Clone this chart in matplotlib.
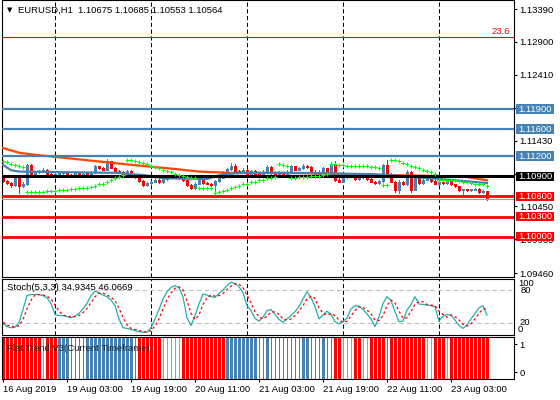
import numpy as np
import matplotlib
matplotlib.use("Agg")
import matplotlib.pyplot as plt
from matplotlib.patches import Rectangle
from matplotlib.transforms import blended_transform_factory

plt.rcParams['font.family'] = ['Liberation Sans', 'DejaVu Sans']
plt.rcParams['font.size'] = 6.8

# EURUSD H1 bars, 16 Aug 2019 11:00 -> 23 Aug 2019 12:00
opens = [1.1087, 1.1083, 1.1080, 1.1077, 1.1088, 1.1075, 1.1079, 1.1107, 1.1090, 1.1096,
         1.1098, 1.1100, 1.1093, 1.1092, 1.1093, 1.1095, 1.1096, 1.1092, 1.1091, 1.1096,
         1.1092, 1.1094, 1.1093, 1.1096, 1.1105, 1.1102, 1.1100, 1.1112, 1.1103, 1.1098,
         1.1097, 1.1094, 1.1098, 1.1093, 1.1089, 1.1083, 1.1077, 1.1080, 1.1082, 1.1085,
         1.1081, 1.1086, 1.1088, 1.1089, 1.1090, 1.1087, 1.1084, 1.1077, 1.1072, 1.1079,
         1.1084, 1.1080, 1.1079, 1.1077, 1.1083, 1.1088, 1.1096, 1.1101, 1.1106, 1.1097,
         1.1096, 1.1100, 1.1094, 1.1098, 1.1094, 1.1092, 1.1097, 1.1104, 1.1095, 1.1094,
         1.1096, 1.1091, 1.1097, 1.1105, 1.1100, 1.1102, 1.1105, 1.1104, 1.1097, 1.1092,
         1.1097, 1.1102, 1.1094, 1.1109, 1.1085, 1.1082, 1.1089, 1.1093, 1.1091, 1.1086,
         1.1090, 1.1089, 1.1086, 1.1082, 1.1080, 1.1083, 1.1107, 1.1094, 1.1082, 1.1069,
         1.1082, 1.1078, 1.1097, 1.1070, 1.1090, 1.1080, 1.1085, 1.1088, 1.1083, 1.1079,
         1.1082, 1.1080, 1.1084, 1.1078, 1.1075, 1.1069, 1.1070, 1.1069, 1.1070, 1.1071,
         1.1066, 1.10675]
highs = [1.1089, 1.1085, 1.1082, 1.1089, 1.1089, 1.1081, 1.1109, 1.1108, 1.1098, 1.1100,
         1.1102, 1.1101, 1.1095, 1.1095, 1.1097, 1.1098, 1.1097, 1.1094, 1.1098, 1.1097,
         1.1096, 1.1096, 1.1098, 1.1107, 1.1106, 1.1104, 1.1115, 1.1113, 1.1104, 1.1100,
         1.1098, 1.1100, 1.1099, 1.1094, 1.1090, 1.1084, 1.1082, 1.1083, 1.1087, 1.1086,
         1.1088, 1.1090, 1.1090, 1.1092, 1.1091, 1.1088, 1.1085, 1.1078, 1.1081, 1.1086,
         1.1085, 1.1082, 1.1080, 1.1085, 1.1090, 1.1098, 1.1103, 1.1110, 1.1108, 1.1099,
         1.1102, 1.1101, 1.1100, 1.1099, 1.1096, 1.1099, 1.1107, 1.1105, 1.1097, 1.1098,
         1.1097, 1.1099, 1.1107, 1.1106, 1.1104, 1.1108, 1.1107, 1.1105, 1.1099, 1.1099,
         1.1104, 1.1103, 1.1111, 1.1112, 1.1087, 1.1091, 1.1095, 1.1094, 1.1092, 1.1092,
         1.1091, 1.1090, 1.1087, 1.1083, 1.1085, 1.1109, 1.1114, 1.1095, 1.1083, 1.1084,
         1.1083, 1.1099, 1.1098, 1.1092, 1.1091, 1.1087, 1.1089, 1.1089, 1.1084, 1.1083,
         1.1083, 1.1085, 1.1085, 1.1079, 1.1076, 1.1071, 1.1071, 1.1071, 1.1072, 1.1072,
         1.1069, 1.10685]
lows = [1.1081, 1.1078, 1.1074, 1.1076, 1.1065, 1.1074, 1.1077, 1.1089, 1.1089, 1.1095,
        1.1097, 1.1092, 1.1091, 1.1091, 1.1092, 1.1094, 1.1091, 1.1090, 1.1090, 1.1091,
        1.1091, 1.1092, 1.1092, 1.1095, 1.1101, 1.1099, 1.1099, 1.1102, 1.1097, 1.1096,
        1.1093, 1.1093, 1.1092, 1.1088, 1.1082, 1.1076, 1.1076, 1.1079, 1.1081, 1.1080,
        1.1080, 1.1085, 1.1087, 1.1088, 1.1086, 1.1083, 1.1076, 1.1071, 1.1071, 1.1078,
        1.1079, 1.1078, 1.1076, 1.1066, 1.1082, 1.1087, 1.1095, 1.1100, 1.1096, 1.1095,
        1.1095, 1.1093, 1.1093, 1.1093, 1.1091, 1.1091, 1.1096, 1.1094, 1.1093, 1.1093,
        1.1090, 1.1090, 1.1096, 1.1099, 1.1099, 1.1101, 1.1103, 1.1096, 1.1091, 1.1091,
        1.1096, 1.1093, 1.1093, 1.1083, 1.1081, 1.1081, 1.1088, 1.1090, 1.1085, 1.1085,
        1.1088, 1.1085, 1.1081, 1.1079, 1.1079, 1.1082, 1.1093, 1.1081, 1.1067, 1.1065,
        1.1077, 1.1077, 1.1067, 1.1069, 1.1079, 1.1079, 1.1084, 1.1082, 1.1078, 1.1078,
        1.1079, 1.1079, 1.1077, 1.1074, 1.1068, 1.1062, 1.1068, 1.1068, 1.1069, 1.1065,
        1.1065, 1.10553]
closes = [1.1083, 1.1080, 1.1077, 1.1088, 1.1075, 1.1079, 1.1107, 1.1090, 1.1096, 1.1098,
          1.1100, 1.1093, 1.1092, 1.1093, 1.1095, 1.1096, 1.1092, 1.1091, 1.1096, 1.1092,
          1.1094, 1.1093, 1.1096, 1.1105, 1.1102, 1.1100, 1.1112, 1.1103, 1.1098, 1.1097,
          1.1094, 1.1098, 1.1093, 1.1089, 1.1083, 1.1077, 1.1080, 1.1082, 1.1085, 1.1081,
          1.1086, 1.1088, 1.1089, 1.1090, 1.1087, 1.1084, 1.1077, 1.1072, 1.1079, 1.1084,
          1.1080, 1.1079, 1.1077, 1.1083, 1.1088, 1.1096, 1.1101, 1.1106, 1.1097, 1.1096,
          1.1100, 1.1094, 1.1098, 1.1094, 1.1092, 1.1097, 1.1104, 1.1095, 1.1094, 1.1096,
          1.1091, 1.1097, 1.1105, 1.1100, 1.1102, 1.1105, 1.1104, 1.1097, 1.1092, 1.1097,
          1.1102, 1.1094, 1.1109, 1.1085, 1.1082, 1.1089, 1.1093, 1.1091, 1.1086, 1.1090,
          1.1089, 1.1086, 1.1082, 1.1080, 1.1083, 1.1107, 1.1094, 1.1082, 1.1069, 1.1082,
          1.1078, 1.1097, 1.1070, 1.1090, 1.1080, 1.1085, 1.1088, 1.1083, 1.1079, 1.1082,
          1.1080, 1.1084, 1.1078, 1.1075, 1.1069, 1.1070, 1.1069, 1.1070, 1.1071, 1.1066,
          1.10675, 1.10564]

# parabolic-sar style dots
sar = [1.1113, 1.1111, 1.1109, 1.1107, 1.1105, 1.1104, 1.1066, 1.1066, 1.1066, 1.1067,
       1.1067, 1.1068, 1.1068, 1.1068, 1.1069, 1.1070, 1.1070, 1.1071, 1.1071, 1.1072,
       1.1072, 1.1073, 1.1074, 1.1075, 1.1078, 1.1079, 1.1082, 1.1084, 1.1087, 1.1089,
       1.1092, 1.1114, 1.1114, 1.1113, 1.1111, 1.1110, 1.1108, 1.1106, 1.1104, 1.1102,
       1.1100, 1.1098, 1.1096, 1.1094, 1.1092, 1.1090, 1.1089, 1.1088, 1.1088, 1.1072,
       1.1072, 1.1072, 1.1072, 1.1065, 1.1066, 1.1068, 1.1070, 1.1072, 1.1074, 1.1075,
       1.1078, 1.1079, 1.1081, 1.1082, 1.1084, 1.1085, 1.1087, 1.1088, 1.1089, 1.1108,
       1.1107, 1.1106, 1.1088, 1.1088, 1.1089, 1.1089, 1.1089, 1.1090, 1.1090, 1.1091,
       1.1092, 1.1093, 1.1108, 1.1108, 1.1107, 1.1107, 1.1106, 1.1106, 1.1106, 1.1105,
       1.1105, 1.1105, 1.1104, 1.1104, 1.1103, 1.1077, 1.1077, 1.1114, 1.1114, 1.1112,
       1.1110, 1.1108, 1.1106, 1.1104, 1.1102, 1.1100, 1.1098, 1.1096, 1.1094, 1.1085,
       1.1085, 1.1085, 1.1084, 1.1084, 1.1083, 1.1082, 1.1081, 1.1080, 1.1079, 1.1078,
       1.1078, 1.1075]

# moving averages (vertices)
ma_slow_x = [0, 4, 8, 16, 24, 32, 41, 49, 57, 70, 82, 93, 104, 116, 121]
ma_slow = [1.1132, 1.1125, 1.1122, 1.1117, 1.1112, 1.1107, 1.1102, 1.1097, 1.1095, 1.1095,
           1.1094, 1.1092, 1.1091, 1.1089, 1.1084]
ma_fast_x = [0, 2, 4, 29, 32, 35, 40, 51, 55, 60, 75, 93, 100, 109, 115, 121]
ma_fast = [1.1107, 1.1099, 1.1097, 1.1095, 1.1093, 1.1092, 1.1087, 1.1086, 1.1093, 1.1095,
           1.1095, 1.1093, 1.1090, 1.1086, 1.1083, 1.1080]

# Stoch(5,3,3)
stoch_main = [20, 14, 12, 13, 22, 45, 70, 72, 72, 72, 70, 66, 56, 36, 34, 34, 32, 30, 33, 38,
              46, 56, 70, 78, 75, 71, 68, 62, 52, 28, 12, 11, 9, 7, 5, 4, 4, 12, 28, 45,
              64, 77, 85, 88, 84, 68, 30, 16, 34, 55, 73, 71, 68, 67, 74, 80, 88, 94, 92, 86,
              75, 52, 43, 29, 24, 31, 43, 45, 36, 27, 22, 28, 34, 41, 50, 64, 77, 67, 50, 28,
              35, 42, 36, 23, 19, 23, 30, 46, 52, 51, 45, 37, 28, 14, 32, 56, 68, 61, 41, 23,
              24, 44, 54, 68, 55, 54, 53, 52, 50, 24, 33, 36, 35, 26, 16, 11, 17, 28, 38, 48,
              52, 34.93]
stoch_signal = [22, 17, 15, 13, 16, 27, 46, 62, 71, 72, 71, 69, 64, 53, 42, 35, 33, 32, 32, 34,
                39, 47, 57, 68, 74, 75, 71, 67, 61, 47, 31, 17, 11, 9, 7, 5, 4, 7, 15, 28,
                46, 62, 75, 83, 86, 80, 61, 38, 27, 35, 54, 66, 71, 69, 70, 74, 81, 87, 91, 91,
                84, 71, 57, 41, 32, 28, 33, 40, 41, 36, 28, 26, 28, 34, 42, 52, 64, 69, 65, 48,
                38, 35, 38, 34, 26, 22, 24, 33, 43, 50, 49, 44, 37, 26, 25, 34, 52, 62, 57, 42,
                29, 30, 41, 55, 59, 59, 54, 53, 52, 42, 36, 31, 35, 32, 26, 18, 15, 19, 28, 38,
                46, 46.07]

# Flat Trend V3 state per bar: R strong down, r weak down, B strong up, b weak up
flat_runs = [("R", 10), ("r", 1), ("R", 3), ("B", 3), ("b", 4), ("B", 12), ("b", 1), ("R", 6),
             ("r", 5), ("R", 11), ("B", 8), ("b", 2), ("B", 1), ("b", 8), ("B", 2), ("b", 3),
             ("B", 1), ("b", 2), ("R", 2), ("r", 3), ("R", 2), ("r", 2), ("R", 4), ("b", 1),
             ("R", 9), ("r", 2), ("R", 3), ("r", 1), ("R", 10)]

date_ticks = [0, 16, 32, 48, 64, 80, 96, 112]
date_labels = ["16 Aug 2019", "19 Aug 03:00", "19 Aug 19:00", "20 Aug 11:00",
               "21 Aug 03:00", "21 Aug 19:00", "22 Aug 11:00", "23 Aug 03:00"]
day_breaks = [13, 37, 61, 85, 109]

price_ticks = [1.13390, 1.12900, 1.12410, 1.11920, 1.11430, 1.10940, 1.10450, 1.09960, 1.09460]
hidden_ticks = [1.11920, 1.10940]   # covered by the level boxes
levels_blue = [1.11900, 1.11600, 1.11200]
levels_black = [1.10900]
levels_red = [1.10600, 1.10300, 1.10000]
fib_236 = 1.1297

BLUE = "#4682b4"
RED = "#ff0000"
PINK = "#f08080"
PX = 0.72  # one pixel in points

W, H = 560, 400
fig = plt.figure(figsize=(W / 100, H / 100), dpi=100)
fig.patch.set_facecolor("white")


def px_box(x0, y0, x1, y1):
    return [x0 / W, 1 - y1 / H, (x1 - x0) / W, (y1 - y0) / H]


ax = fig.add_axes(px_box(2, 0, 514, 277))
ax_st = fig.add_axes(px_box(2, 279, 514, 335))
ax_ft = fig.add_axes(px_box(2, 337, 514, 379))

n = len(closes)
x = np.arange(n)
xlim = (-0.25, 127.75)
for a in (ax, ax_st, ax_ft):
    a.set_xlim(*xlim)
    for s in a.spines.values():
        s.set_linewidth(0.8)
        s.set_color("black")
    for b in day_breaks:
        a.axvline(b, color="black", lw=0.75, ls=(0, (4, 2.5)), zorder=0.5)

# ---- main price panel
ymin, ymax = 1.094005, 1.13524
ax.set_ylim(ymin, ymax)
px_price = (ymax - ymin) / 277
o = np.array(opens)
c = np.array(closes)
up = c >= o
cols = np.where(up, BLUE, RED)
ax.vlines(x, lows, highs, colors=cols, lw=PX, zorder=2, antialiased=False)
body_lo = np.minimum(o, c)
body_hi = np.maximum(np.maximum(o, c), body_lo + px_price)
ax.vlines(x, body_lo, body_hi, colors=cols, lw=3 * PX, zorder=2.1, antialiased=False)

ax.plot(ma_slow_x, ma_slow, color="#ff4500", lw=1.6, zorder=3)
ax.plot(ma_fast_x, ma_fast, color=BLUE, lw=1.6, zorder=3.1)

ax.axhline(fib_236, color=RED, lw=0.8, zorder=2.5)
ax.text(126.8, fib_236 + 0.0002, "23.6", color=RED, ha="right", va="bottom", fontsize=6.8)
for lv in levels_blue:
    ax.axhline(lv, color=BLUE, lw=1.6, zorder=3.5)
for lv in levels_black:
    ax.axhline(lv, color="black", lw=2.2, zorder=3.5)
for lv in levels_red:
    ax.axhline(lv, color=RED, lw=2.0, zorder=3.5)
ax.axhline(closes[-1], color="#a0a0a0", lw=0.8, zorder=3.4)

ax.plot(x, sar, ls="none", marker="+", ms=3, mew=0.8, color="#00ff00", zorder=4)

ax.set_xticks([])
ax.yaxis.tick_right()
ax.set_yticks(price_ticks)
ax.set_yticklabels(["" if t in hidden_ticks else f"{t:.5f}" for t in price_ticks])
ax.tick_params(axis="y", length=2.5, width=0.8, pad=1.5, labelsize=6.8)

tr = blended_transform_factory(ax.transAxes, ax.transData)
box_h = 9.5 * px_price
for lvs, fc in ((levels_blue, BLUE), (levels_black, "black"), (levels_red, RED)):
    for lv in lvs:
        ax.add_patch(Rectangle((1.0039, lv - box_h / 2), 38 / 512, box_h, transform=tr,
                               facecolor=fc, edgecolor="none", clip_on=False, zorder=5))
        ax.text(1.0039 + 2 / 512, lv, f"{lv:.5f}", transform=tr, color="white",
                ha="left", va="center", fontsize=6.8, zorder=6, clip_on=False)

fig.text(7 / W, 1 - 10.5 / H, "\u25bc", fontsize=5, family="DejaVu Sans", va="center")
fig.text(18 / W, 1 - 10.5 / H, "EURUSD,H1  1.10675 1.10685 1.10553 1.10564",
         fontsize=6.8, va="center")

# ---- stochastic panel
ax_st.set_ylim(-1, 100)
ax_st.set_xticks([])
ax_st.set_yticks([])
for lv in (80, 20):
    ax_st.axhline(lv, color="#c0c0c0", lw=0.8, ls=(0, (4, 3)), zorder=0.6)
ax_st.plot(x, stoch_main, color="#20b2aa", lw=0.9, zorder=2)
ax_st.plot(x, stoch_signal, color=RED, lw=0.9, ls=(0, (2, 2)), zorder=2.1)
trs = blended_transform_factory(ax_st.transAxes, ax_st.transData)
for val, lab, dx in ((91, "100", 4), (80, "80", 7), (21.5, "20", 5), (9, "0", 4)):
    ax_st.text(1 + dx / 512, val, lab, transform=trs, ha="left", va="center", fontsize=6.8)
ax_st.text(5 / 512, 85, "Stoch(5,3,3) 34.9345 46.0669", transform=trs, ha="left",
           va="center", fontsize=6.8)

# ---- flat trend panel
states = "".join(s * k for s, k in flat_runs)
ax_ft.set_ylim(-0.25, 1.25)
thick = [i for i, s in enumerate(states) if s in "RB"]
thin = [i for i, s in enumerate(states) if s in "rb"]
ax_ft.vlines(thick, -0.215, 1.215, colors=[RED if states[i] == "R" else BLUE for i in thick],
             lw=3 * PX, zorder=2, antialiased=False)
ax_ft.vlines(thin, -0.215, 1.215, colors=[PINK if states[i] == "r" else BLUE for i in thin],
             lw=PX, zorder=2, antialiased=False)
ax_ft.yaxis.tick_right()
ax_ft.set_yticks([1, 0])
ax_ft.set_yticklabels(["1", "0"])
ax_ft.tick_params(axis="y", length=2.5, width=0.8, pad=1.5, labelsize=6.8)
ax_ft.set_xticks(date_ticks)
ax_ft.set_xticklabels(date_labels, ha="left", fontsize=6.8)
ax_ft.tick_params(axis="x", length=2.5, width=0.8, pad=1.5)
ax_ft.text(5 / 512, 0.85, "Flat Trend V3(Current Timeframe)", transform=blended_transform_factory(
    ax_ft.transAxes, ax_ft.transData), ha="left", va="center", fontsize=6.8, color="#202020",
    zorder=5)

fig.savefig("out.png", dpi=100)
